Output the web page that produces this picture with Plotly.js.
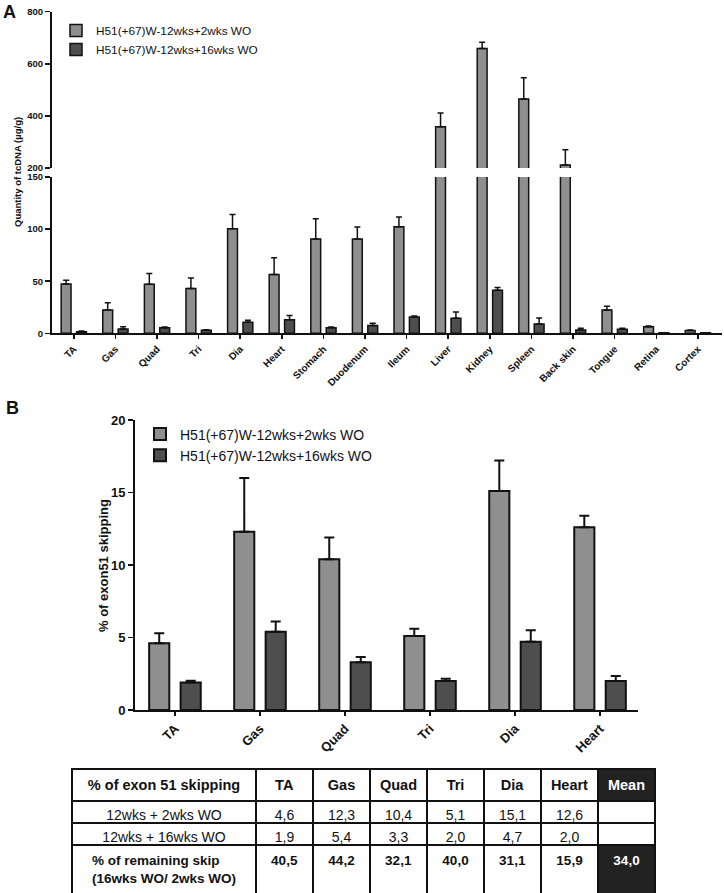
<!DOCTYPE html>
<html>
<head>
<meta charset="utf-8">
<script src="https://cdn.plot.ly/plotly-3.0.1.min.js"></script>
<style>html,body{margin:0;padding:0;background:#fff;}#chart{width:724px;height:893px;}</style>
</head>
<body>
<div id="chart"></div>
<script>
// ---------- Panel A data: quantity of tcDNA (µg/g) ----------
const tissuesA = ['TA','Gas','Quad','Tri','Dia','Heart','Stomach','Duodenum','Ileum','Liver','Kidney','Spleen','Back skin','Tongue','Retina','Cortex'];
const tcdna2wks    = [47.4, 22.4, 47.1, 43.0, 100.3, 56.4, 90.4, 90.5, 102.3, 358.6, 659.0, 465.0, 211.5, 22.4, 6.4, 2.6];
const tcdna2wksErr = [3.6, 7.0, 10.3, 10.0, 13.7, 16.0, 19.6, 11.5, 9.3, 53.0, 24.0, 81.0, 58.5, 3.5, 0.6, 0.6];
const tcdna16wks    = [1.6, 4.2, 5.4, 2.9, 10.6, 13.1, 5.4, 7.4, 15.7, 14.4, 41.3, 9.0, 3.2, 3.8, 0.6, 0.5];
const tcdna16wksErr = [0.5, 2.2, 0.6, 0.6, 1.9, 3.9, 0.6, 2.2, 0.9, 6.1, 2.7, 5.7, 1.6, 1.0, 0.0, 0.0];
const lowerTicksA = [0, 50, 100, 150];
const upperTicksA = [200, 400, 600, 800];

// ---------- Panel B data: % of exon 51 skipping ----------
const tissuesB = ['TA','Gas','Quad','Tri','Dia','Heart'];
const skip2wks     = [4.6, 12.3, 10.4, 5.1, 15.1, 12.6];
const skip2wksErr  = [0.7, 3.7, 1.5, 0.5, 2.1, 0.8];
const skip16wks    = [1.9, 5.4, 3.3, 2.0, 4.7, 2.0];
const skip16wksErr = [0.12, 0.7, 0.35, 0.16, 0.8, 0.35];
const ticksB = [0, 5, 10, 15, 20];

// ---------- Table data ----------
const tableHeaderLabel = '% of exon 51 skipping';
const meanLabel = 'Mean';
const rowLabels = ['12wks + 2wks WO', '12wks + 16wks WO', '% of remaining skip<br>(16wks WO/ 2wks WO)'];
const remainingSkip = [40.5, 44.2, 32.1, 40.0, 31.1, 15.9];
const remainingMean = 34.0;

const seriesNames = ['H51(+67)W-12wks+2wks WO', 'H51(+67)W-12wks+16wks WO'];

// ---------- styling ----------
const FONT = 'Liberation Sans, Arial, Helvetica, sans-serif';
const INK = '#111111';
const LIGHT = '#8f8f8f';
const DARK = '#4e4e4e';
const W = 724, H = 893;
const px = v => v / W;
const py = v => 1 - v / H;
const fmt = v => v.toFixed(1).replace('.', ',');
const zeros = n => new Array(n).fill(0);

function barTrace(name, x, y, err, color, xa, ya, legend, show, lw, capw) {
  return {
    type: 'bar', name: name, x: x, y: y, xaxis: xa, yaxis: ya,
    legend: legend, showlegend: show,
    marker: {color: color, line: {color: INK, width: lw}},
    error_y: {type: 'data', symmetric: false, array: err, arrayminus: zeros(err.length),
              color: INK, thickness: lw, width: capw},
    hoverinfo: 'skip'
  };
}

const traces = [
  // Panel A lower segment
  barTrace(seriesNames[0], tissuesA, tcdna2wks, tcdna2wksErr, LIGHT, 'x', 'y', 'legend', true, 1.5, 3),
  barTrace(seriesNames[1], tissuesA, tcdna16wks, tcdna16wksErr, DARK, 'x', 'y', 'legend', true, 1.5, 3),
  // Panel A upper segment (broken axis)
  barTrace(seriesNames[0], tissuesA, tcdna2wks, tcdna2wksErr, LIGHT, 'x', 'y2', 'legend', false, 1.5, 3),
  barTrace(seriesNames[1], tissuesA, tcdna16wks, tcdna16wksErr, DARK, 'x', 'y2', 'legend', false, 1.5, 3),
  // Panel B
  barTrace(seriesNames[0], tissuesB, skip2wks, skip2wksErr, LIGHT, 'x2', 'y3', 'legend2', true, 2, 5),
  barTrace(seriesNames[1], tissuesB, skip16wks, skip16wksErr, DARK, 'x2', 'y3', 'legend2', true, 2, 5)
];

// Table
const headerVals = ['<b>' + tableHeaderLabel + '</b>']
  .concat(tissuesB.map(t => '<b>' + t + '</b>'))
  .concat(['<b>' + meanLabel + '</b>']);
const cellVals = [[rowLabels[0], rowLabels[1], '<b>' + rowLabels[2] + '</b>']]
  .concat(tissuesB.map((t, i) => [fmt(skip2wks[i]), fmt(skip16wks[i]), '<b>' + fmt(remainingSkip[i]) + '</b>']))
  .concat([['', '', '<b>' + fmt(remainingMean) + '</b>']]);
const nCols = headerVals.length;
const isMeanCell = (i, r) => i === nCols - 1 && r === 2;
const headerFill = headerVals.map((v, i) => i === nCols - 1 ? '#222222' : '#ffffff');
const headerFontColor = headerVals.map((v, i) => i === nCols - 1 ? '#ffffff' : INK);
const cellFill = cellVals.map((col, i) => col.map((v, r) => isMeanCell(i, r) ? '#222222' : '#ffffff'));
const cellFontColor = cellVals.map((col, i) => col.map((v, r) => isMeanCell(i, r) ? '#ffffff' : INK));
const cellFontSize = cellVals.map((col, i) => col.map((v, r) => r === 2 ? 13.5 : 14));

traces.push({
  type: 'table',
  domain: {x: [px(72), px(655)], y: [0, py(769)]},
  columnwidth: [184].concat(new Array(nCols - 1).fill(57)),
  header: {
    values: headerVals, align: 'center', height: 31,
    fill: {color: headerFill},
    line: {color: INK, width: 1.5},
    font: {family: FONT, size: 14.5, color: headerFontColor}
  },
  cells: {
    values: cellVals, align: 'center', height: 22,
    fill: {color: cellFill},
    line: {color: INK, width: 1.5},
    font: {family: FONT, size: cellFontSize, color: cellFontColor}
  }
});

const axisCommon = {
  showline: true, linecolor: INK, linewidth: 2, ticks: 'outside', tickcolor: INK,
  tickwidth: 1.5, showgrid: false, zeroline: false, fixedrange: true
};

const layout = {
  width: W, height: H,
  margin: {l: 0, r: 0, t: 0, b: 0},
  paper_bgcolor: '#ffffff', plot_bgcolor: 'rgba(0,0,0,0)',
  font: {family: FONT, color: INK},
  barmode: 'group', bargap: 0.26, bargroupgap: 0.36,
  xaxis: Object.assign({}, axisCommon, {
    domain: [px(52), px(722)], anchor: 'y', range: [-0.524, 15.58],
    ticklen: 4, tickangle: -45, tickfont: {family: FONT, size: 10, color: INK, weight: 'bold'}
  }),
  yaxis: Object.assign({}, axisCommon, {
    domain: [py(333.3), py(177)], anchor: 'x', range: [0, 150], tickvals: lowerTicksA,
    ticklen: 5, ticklabelshift: 3.5, tickfont: {family: FONT, size: 9.5, color: INK, weight: 'bold'}
  }),
  yaxis2: Object.assign({}, axisCommon, {
    domain: [py(168), py(11.7)], anchor: 'x', range: [200, 800], tickvals: upperTicksA,
    ticklen: 5, ticklabelshift: -3.5, tickfont: {family: FONT, size: 9.5, color: INK, weight: 'bold'}
  }),
  xaxis2: Object.assign({}, axisCommon, {
    domain: [px(135), px(638.3)], anchor: 'y3', range: [-0.47, 5.45],
    ticklen: 4, tickangle: -45, tickfont: {family: FONT, size: 13, color: INK, weight: 'bold'}
  }),
  yaxis3: Object.assign({}, axisCommon, {
    domain: [py(710), py(420)], anchor: 'x2', range: [0, 20], tickvals: ticksB,
    ticklen: 5, tickfont: {family: FONT, size: 13, color: INK, weight: 'bold'}
  }),
  legend: {
    x: px(56), y: py(16), xanchor: 'left', yanchor: 'top',
    bgcolor: 'rgba(0,0,0,0)', font: {family: FONT, size: 11.8, color: INK}
  },
  legend2: {
    x: px(140), y: py(418.5), xanchor: 'left', yanchor: 'top',
    bgcolor: 'rgba(0,0,0,0)', font: {family: FONT, size: 14, color: INK}
  },
  annotations: [
    {text: '<b>A</b>', x: px(9), y: py(12), xref: 'paper', yref: 'paper', showarrow: false,
     xanchor: 'center', yanchor: 'middle', font: {family: FONT, size: 18, color: INK}},
    {text: '<b>B</b>', x: px(12), y: py(408), xref: 'paper', yref: 'paper', showarrow: false,
     xanchor: 'center', yanchor: 'middle', font: {family: FONT, size: 18, color: INK}},
    {text: '<b>Quantity of tcDNA (µg/g)</b>', x: px(17), y: py(172), xref: 'paper', yref: 'paper',
     xanchor: 'center', yanchor: 'middle',
     showarrow: false, textangle: -90, font: {family: FONT, size: 9.5, color: INK}},
    {text: '<b>% of exon51 skipping</b>', x: px(103), y: py(566), xref: 'paper', yref: 'paper',
     xanchor: 'center', yanchor: 'middle',
     showarrow: false, textangle: -90, font: {family: FONT, size: 13, color: INK}}
  ]
};

Plotly.newPlot('chart', traces, layout, {displayModeBar: false, staticPlot: true});
</script>
</body>
</html>
